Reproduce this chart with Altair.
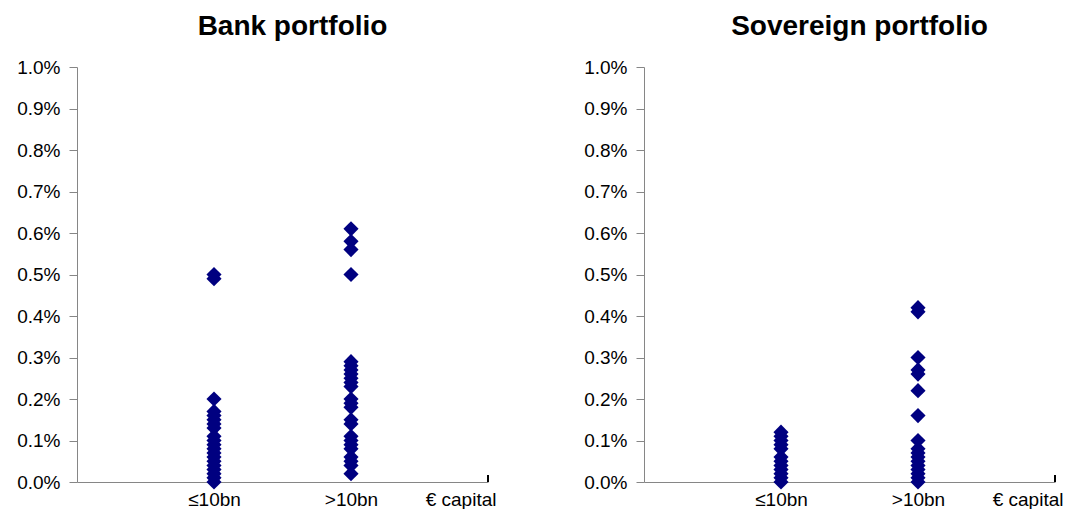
import altair as alt
import pandas as pd

categories = ["≤10bn", ">10bn", "€ capital"]
titles = ["Bank portfolio", "Sovereign portfolio"]

# values in percent
bank_small = [0.50, 0.49, 0.20, 0.17, 0.16, 0.15, 0.14, 0.13, 0.11, 0.10, 0.09,
              0.08, 0.07, 0.06, 0.05, 0.04, 0.03, 0.02, 0.01, 0.00]
bank_large = [0.61, 0.58, 0.56, 0.50, 0.29, 0.28, 0.27, 0.26, 0.25, 0.24, 0.23,
              0.20, 0.19, 0.18, 0.15, 0.14, 0.11, 0.10, 0.09, 0.08, 0.06, 0.05,
              0.04, 0.02]
sov_small = [0.12, 0.11, 0.10, 0.09, 0.08, 0.06, 0.05, 0.04, 0.03, 0.02, 0.01, 0.00]
sov_large = [0.42, 0.41, 0.30, 0.27, 0.26, 0.22, 0.16, 0.10, 0.08, 0.07, 0.06,
             0.05, 0.04, 0.03, 0.02, 0.01, 0.00]

y_ticks = [i / 1000 for i in range(11)]
FONT = "Liberation Sans"
AXIS_GRAY = "#868686"


def panel(title, small, large):
    df = pd.DataFrame({
        "x": [1] * len(small) + [2] * len(large),
        "v": [v / 100 for v in small + large],
    })
    xaxis = alt.Axis(
        values=[1, 2, 2.8],
        labelExpr=f"datum.value == 1 ? '{categories[0]}' : datum.value == 2 ? '{categories[1]}' : '{categories[2]}'",
        ticks=False, tickSize=0, labelPadding=8, labelFlush=False, labelOverlap=False,
        labelFontSize=19, labelFont=FONT, labelColor="black",
        domainColor=AXIS_GRAY, grid=False, title=None,
    )
    yaxis = alt.Axis(
        values=y_ticks, format=".1%", tickSize=8, tickColor=AXIS_GRAY,
        domainColor=AXIS_GRAY, labelPadding=9, minExtent=64, maxExtent=64,
        labelFontSize=19, labelFont=FONT, labelColor="black", grid=False, title=None,
    )
    pts = alt.Chart(df).mark_point(
        shape="diamond", filled=True, size=230, color="#000080", opacity=1
    ).encode(
        x=alt.X("x:Q", scale=alt.Scale(domain=[0, 3], nice=False), axis=xaxis),
        y=alt.Y("v:Q", scale=alt.Scale(domain=[0, 0.01], nice=False), axis=yaxis),
    )
    endtick = alt.Chart(pd.DataFrame({"x": [3]})).mark_rule(
        color="#000000", strokeWidth=2
    ).encode(x="x:Q", y=alt.value(408), y2=alt.value(415))
    return alt.layer(pts, endtick).properties(
        width=411, height=415,
        title=alt.TitleParams(
            title, fontSize=28, fontWeight="bold", font=FONT, anchor="middle",
            frame="group", dx=10, offset=17, color="black",
        ),
    )


chart = alt.hconcat(
    panel(titles[0], bank_small, bank_large),
    panel(titles[1], sov_small, sov_large),
    spacing=156, bounds="flush",
).properties(
    padding={"left": 5, "top": 5, "right": 0, "bottom": 0}
).configure_view(stroke=None)

chart.save("out.html", embed_options={"renderer": "svg", "actions": False})
